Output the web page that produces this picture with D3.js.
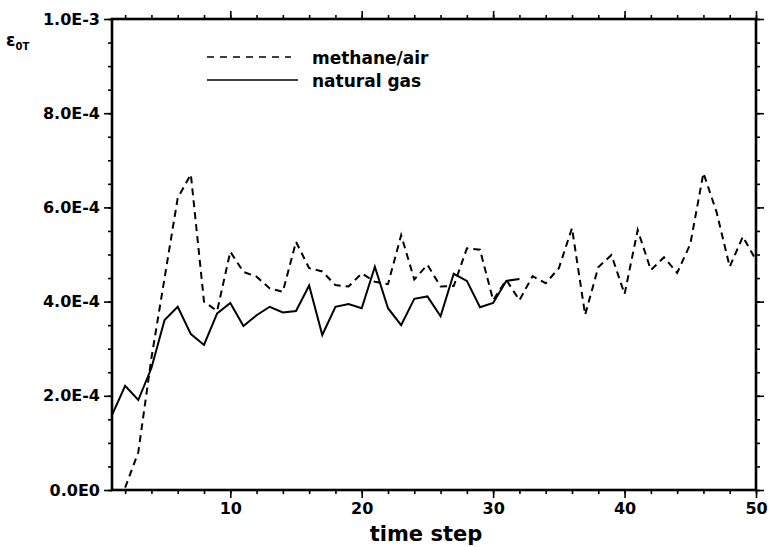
<!DOCTYPE html>
<html>
<head>
<meta charset="utf-8">
<script src="https://cdn.jsdelivr.net/npm/d3@7"></script>
<style>
  html, body { margin: 0; padding: 0; background: #fff; }
  svg { display: block; }
  text { font-family: "DejaVu Sans", "Liberation Sans", Arial, sans-serif; font-weight: bold; fill: #000; }
</style>
</head>
<body>
<svg id="chart" width="770" height="547"></svg>
<script>
// ---- data ----
const methaneSteps = d3.range(2, 51);
const methaneAir = [
  0.000005, 0.00008, 0.00028, 0.00045, 0.00062, 0.00067, 0.00040, 0.00038,
  0.000506, 0.000463, 0.000453, 0.000428, 0.000421, 0.000527, 0.000471, 0.000464,
  0.000435, 0.000432, 0.00046, 0.000442, 0.000437, 0.000541, 0.000447, 0.000478,
  0.000432, 0.000433, 0.000513, 0.00051, 0.000403, 0.000446, 0.000403, 0.000454,
  0.000439, 0.000471, 0.000556, 0.000372, 0.000473, 0.000499, 0.000416, 0.000552,
  0.000467, 0.000494, 0.000461, 0.000522, 0.000673, 0.00059, 0.000474, 0.000538,
  0.000488
];
const gasSteps = d3.range(1, 33);
const naturalGas = [
  0.000159, 0.000221, 0.000191, 0.000259, 0.000361, 0.000389, 0.000331, 0.000308,
  0.000375, 0.000397, 0.000348, 0.000371, 0.000389, 0.000377, 0.00038, 0.000434,
  0.000329, 0.000389, 0.000395, 0.000386, 0.000474, 0.000386, 0.00035, 0.000406,
  0.000411, 0.000369, 0.000459, 0.000444, 0.000388, 0.000397, 0.000444, 0.000448
];
const xMajorTicks = [10, 20, 30, 40, 50];
const xTickLabels = ["10", "20", "30", "40", "50"];
const xMinorTicks = d3.range(2, 51, 2);
const yMajorTicks = [0, 0.0002, 0.0004, 0.0006, 0.0008, 0.001];
const yTickLabels = ["0.0E0", "2.0E-4", "4.0E-4", "6.0E-4", "8.0E-4", "1.0E-3"];
const yMinorTicks = d3.range(0, 0.00100001, 0.00005);
const seriesNames = ["methane/air", "natural gas"];

// ---- layout ----
const L = 112, R = 756, T = 19, B = 490;
const svg = d3.select("#chart");
const x = d3.scaleLinear().domain([1, 50]).range([L, R]);
const y = d3.scaleLinear().domain([0, 0.001]).range([B, T]);

function styleAxis(g) {
  g.select(".domain").remove();
  g.selectAll(".tick line").attr("stroke", "#000").attr("stroke-width", 1.6);
  g.selectAll("text").attr("font-size", 16).attr("fill", "#000");
}

// bottom
svg.append("g").attr("transform", `translate(0,${B})`)
  .call(d3.axisBottom(x).tickValues(xMinorTicks).tickSize(4).tickSizeOuter(0).tickFormat(""))
  .call(styleAxis);
svg.append("g").attr("transform", `translate(0,${B})`)
  .call(d3.axisBottom(x).tickValues(xMajorTicks).tickSize(8).tickSizeOuter(0).tickPadding(5)
    .tickFormat((d, i) => xTickLabels[i]))
  .call(styleAxis);
// top
svg.append("g").attr("transform", `translate(0,${T})`)
  .call(d3.axisTop(x).tickValues(xMinorTicks).tickSize(4).tickSizeOuter(0).tickFormat(""))
  .call(styleAxis);
svg.append("g").attr("transform", `translate(0,${T})`)
  .call(d3.axisTop(x).tickValues(xMajorTicks).tickSize(8).tickSizeOuter(0).tickFormat(""))
  .call(styleAxis);
// left
svg.append("g").attr("transform", `translate(${L},0)`)
  .call(d3.axisLeft(y).tickValues(yMinorTicks).tickSize(4).tickSizeOuter(0).tickFormat(""))
  .call(styleAxis);
svg.append("g").attr("transform", `translate(${L},0)`)
  .call(d3.axisLeft(y).tickValues(yMajorTicks).tickSize(8).tickSizeOuter(0).tickPadding(4)
    .tickFormat((d, i) => yTickLabels[i]))
  .call(styleAxis);
// right
svg.append("g").attr("transform", `translate(${R},0)`)
  .call(d3.axisRight(y).tickValues(yMinorTicks).tickSize(4).tickSizeOuter(0).tickFormat(""))
  .call(styleAxis);
svg.append("g").attr("transform", `translate(${R},0)`)
  .call(d3.axisRight(y).tickValues(yMajorTicks).tickSize(8).tickSizeOuter(0).tickFormat(""))
  .call(styleAxis);

// frame
svg.append("rect").attr("x", L).attr("y", T).attr("width", R - L).attr("height", B - T)
  .attr("fill", "none").attr("stroke", "#000").attr("stroke-width", 2.6);

// lines
const line = d3.line().x(d => x(d[0])).y(d => y(d[1]));
svg.append("path")
  .datum(methaneSteps.map((s, i) => [s, methaneAir[i]]))
  .attr("d", line).attr("fill", "none").attr("stroke", "#000")
  .attr("stroke-width", 2).attr("stroke-dasharray", "7,5");
svg.append("path")
  .datum(gasSteps.map((s, i) => [s, naturalGas[i]]))
  .attr("d", line).attr("fill", "none").attr("stroke", "#000")
  .attr("stroke-width", 2).attr("stroke-linejoin", "miter");

// legend
const leg = svg.append("g");
leg.append("line").attr("x1", 207).attr("x2", 291).attr("y1", 57).attr("y2", 57)
  .attr("stroke", "#000").attr("stroke-width", 1.6).attr("stroke-dasharray", "7,6");
leg.append("line").attr("x1", 207).attr("x2", 298).attr("y1", 80).attr("y2", 80)
  .attr("stroke", "#000").attr("stroke-width", 1.6);
leg.append("text").attr("x", 312).attr("y", 64).attr("font-size", 17).text(seriesNames[0]);
leg.append("text").attr("x", 312).attr("y", 87).attr("font-size", 17).text(seriesNames[1]);

// axis titles
svg.append("text").attr("x", (L + R) / 2 - 8).attr("y", 541).attr("text-anchor", "middle")
  .attr("font-size", 21).text("time step");
const yl = svg.append("text").attr("x", 6).attr("y", 46).attr("font-size", 17);
yl.append("tspan").text("ε");
yl.append("tspan").attr("font-size", 10).attr("dy", 4).text("0T");
</script>
</body>
</html>
